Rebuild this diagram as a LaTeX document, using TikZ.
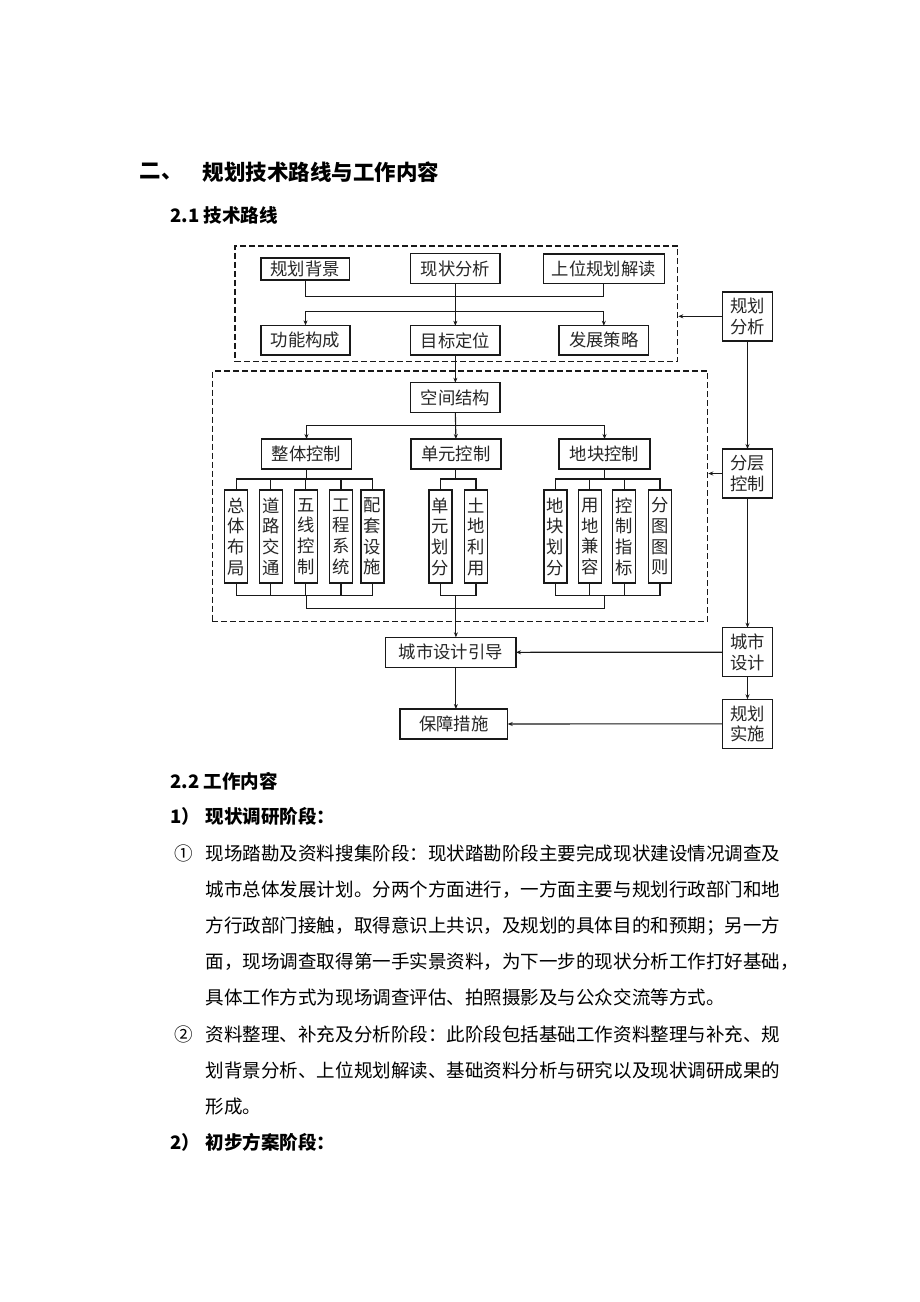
\documentclass[tikz,border=0pt]{standalone}
\usepackage{fontspec}
\setmainfont{Noto Sans CJK SC}
\usetikzlibrary{arrows.meta}
\newlength{\du}
\setlength{\du}{0.75pt}
\definecolor{linecolor}{rgb}{0.100000, 0.100000, 0.100000}
\definecolor{textcolor}{rgb}{0.150000, 0.150000, 0.150000}
\tikzset{
  box/.style={draw=linecolor, line width=1.4\du, inner sep=0pt, outer sep=0pt,
    text=textcolor, font=\fontsize{13pt}{15.5pt}\selectfont, align=center},
  vbox/.style={box, minimum width=23\du, minimum height=93\du},
  rbox/.style={box, minimum width=50.4\du, minimum height=49\du},
  frame/.style={draw=linecolor, line width=1.1\du, dash pattern=on 4.5pt off 2.25pt, inner sep=0pt},
  conn/.style={draw=linecolor, line width=1.1\du},
  arr/.style={conn, -{Stealth[length=3.75pt,width=3pt]}},
  txt/.style={anchor=west, inner sep=0pt, text=black, font=\fontsize{13.9pt}{16pt}\selectfont},
  head/.style={txt, font=\fontsize{13.9pt}{16pt}\selectfont\bfseries}
}

\begin{document}
\begin{tikzpicture}
\pgftransformxscale{1.000000}
\pgftransformyscale{-1.000000}
\useasboundingbox (0\du,0\du) rectangle (920\du,1302\du);
\fill[white] (0\du,0\du) rectangle (920\du,1302\du);

% headings
\node[head, font=\fontsize{16.1pt}{18pt}\selectfont\bfseries] (sec) at (139.6\du,172\du){二、};
\node[head, font=\fontsize{16.1pt}{18pt}\selectfont\bfseries] (ttl) at (202.7\du,172\du){规划技术路线与工作内容};
\node[head] (h21) at (170\du,215\du){2.1 技术路线};

% dashed frames
\node[frame, minimum width=442.7\du, minimum height=115.7\du] (fr1) at (456.35\du,303.85\du){};
\node[frame, minimum width=495.4\du, minimum height=250.7\du] (fr2) at (460\du,496.35\du){};

% upper frame
\node[box, minimum width=88.5\du, minimum height=22\du] (bj) at (305.3\du,269\du){规划背景};
\node[box, minimum width=89.3\du, minimum height=30\du] (xz) at (455.35\du,268.5\du){现状分析};
\node[box, minimum width=121\du, minimum height=29.3\du] (sw) at (603.8\du,268.7\du){上位规划解读};
\node[box, minimum width=89\du, minimum height=29.7\du] (gn) at (305.5\du,340.2\du){功能构成};
\node[box, minimum width=89.3\du, minimum height=29.3\du] (mb) at (455.35\du,340.4\du){目标定位};
\node[box, minimum width=89.5\du, minimum height=29.3\du] (fz) at (603.8\du,340.4\du){发展策略};

% lower frame
\node[box, minimum width=89.3\du, minimum height=30\du] (kj) at (455.35\du,397.7\du){空间结构};
\node[box, minimum width=90.4\du, minimum height=30\du] (zt) at (306.5\du,454\du){整体控制};
\node[box, minimum width=90.2\du, minimum height=30\du] (dy) at (455.9\du,454\du){单元控制};
\node[box, minimum width=91\du, minimum height=30\du] (dk) at (604.5\du,454\du){地块控制};

\node[vbox] (z1) at (236.2\du,536.5\du){总\\体\\布\\局};
\node[vbox] (z2) at (270.8\du,536.5\du){道\\路\\交\\通};
\node[vbox] (z3) at (305.7\du,536.5\du){五\\线\\控\\制};
\node[vbox] (z4) at (341\du,536.5\du){工\\程\\系\\统};
\node[vbox] (z5) at (372.5\du,536.5\du){配\\套\\设\\施};
\node[vbox] (d1) at (440.5\du,536.5\du){单\\元\\划\\分};
\node[vbox] (d2) at (476\du,536.5\du){土\\地\\利\\用};
\node[vbox] (k1) at (555.3\du,536.5\du){地\\块\\划\\分};
\node[vbox] (k2) at (589.7\du,536.5\du){用\\地\\兼\\容};
\node[vbox] (k3) at (624.2\du,536.5\du){控\\制\\指\\标};
\node[vbox] (k4) at (660\du,536.5\du){分\\图\\图\\则};

% outputs
\node[box, minimum width=130.3\du, minimum height=30\du] (csyd) at (450.85\du,652.3\du){城市设计引导};
\node[box, minimum width=107.7\du, minimum height=30\du] (bz) at (453.85\du,724\du){保障措施};

% right column
\node[rbox] (r1) at (747.5\du,316.3\du){规划\\分析};
\node[rbox] (r2) at (747.5\du,473.5\du){分层\\控制};
\node[rbox] (r3) at (747.5\du,652.2\du){城市\\设计};
\node[rbox] (r4) at (747.5\du,723.8\du){规划\\实施};

% junctions
\coordinate (t1) at (455.35\du,296.7\du);
\coordinate (t2) at (455.35\du,311.7\du);
\coordinate (m1) at (455.35\du,425.7\du);
\coordinate (bot) at (455.9\du,608.3\du);
\path (zt.south) ++(0,10\du) coordinate (ztb);
\path (dy.south) ++(0,10\du) coordinate (dyb);
\path (dk.south) ++(0,10\du) coordinate (dkb);
\path (zt.south |- z1.south) ++(0,12.5\du) coordinate (ztbb);
\path (dy.south |- d1.south) ++(0,12.5\du) coordinate (dybb);
\path (dk.south |- k1.south) ++(0,12.5\du) coordinate (dkbb);

% connectors, upper frame
\draw[conn] (bj.south) |- (t1) -| (sw.south);
\draw[arr] (xz.south) -- (mb.north);
\draw[arr] (t2) -| (gn.north);
\draw[arr] (t2) -| (fz.north);
\draw[arr] (mb.south) -- (kj.north);

% connectors, lower frame
\draw[arr] (kj.south) -- (dy.north);
\draw[arr] (m1) -| (zt.north);
\draw[arr] (m1) -| (dk.north);
\draw[conn] (zt.south) -- (ztb);
\draw[conn] (dy.south) -- (dyb);
\draw[conn] (dk.south) -- (dkb);
\draw[conn] (z1.north) |- (ztb) -| (z5.north);
\foreach \n in {2,3,4} \draw[conn] (z\n.north) -- (z\n.north |- ztb);
\draw[conn] (d1.north) |- (dyb) -| (d2.north);
\draw[conn] (k1.north) |- (dkb) -| (k4.north);
\foreach \n in {2,3} \draw[conn] (k\n.north) -- (k\n.north |- dkb);
\draw[conn] (z1.south) |- (ztbb) -| (z5.south);
\foreach \n in {2,3,4} \draw[conn] (z\n.south) -- (z\n.south |- ztbb);
\draw[conn] (d1.south) |- (dybb) -| (d2.south);
\draw[conn] (k1.south) |- (dkbb) -| (k4.south);
\foreach \n in {2,3} \draw[conn] (k\n.south) -- (k\n.south |- dkbb);
\draw[conn] (ztbb) |- (bot) -| (dkbb);
\draw[arr] (dybb) -- (dybb |- csyd.north);
\draw[arr] (dybb |- csyd.south) -- (dybb |- bz.north);

% right column
\draw[arr] (r1.south) -- (r2.north);
\draw[arr] (r2.south) -- (r3.north);
\draw[arr] (r3.south) -- (r4.north);
\draw[arr] (r1.west) -- (r1.west -| fr1.east);
\draw[arr] (r2.west) -- (r2.west -| fr2.east);
\draw[arr] (r3.west) -- (csyd.east);
\draw[arr] (r4.west) -- (bz.east);

% work content text
\node[head] (h22) at (170\du,781.7\du){2.2 工作内容};
\node[head] (n1) at (170\du,816.7\du){1）};
\node[head] (p1) at (205.5\du,816.7\du){现状调研阶段：};
\node[txt] (c1) at (174\du,853.3\du){①};
\node[txt] (l1) at (205.5\du,853.3\du){现场踏勘及资料搜集阶段：现状踏勘阶段主要完成现状建设情况调查及};
\node[txt] (l2) at (205.5\du,889.3\du){城市总体发展计划。分两个方面进行，一方面主要与规划行政部门和地};
\node[txt] (l3) at (205.5\du,925.7\du){方行政部门接触，取得意识上共识，及规划的具体目的和预期；另一方};
\node[txt] (l4) at (205.5\du,961.7\du){面，现场调查取得第一手实景资料，为下一步的现状分析工作打好基础，};
\node[txt] (l5) at (205.5\du,997.7\du){具体工作方式为现场调查评估、拍照摄影及与公众交流等方式。};
\node[txt] (c2) at (174\du,1034.3\du){②};
\node[txt] (l6) at (205.5\du,1034.3\du){资料整理、补充及分析阶段：此阶段包括基础工作资料整理与补充、规};
\node[txt] (l7) at (205.5\du,1070\du){划背景分析、上位规划解读、基础资料分析与研究以及现状调研成果的};
\node[txt] (l8) at (205.5\du,1106.7\du){形成。};
\node[head] (n2) at (170\du,1142.7\du){2）};
\node[head] (p2) at (205.5\du,1142.7\du){初步方案阶段：};
\end{tikzpicture}
\end{document}
